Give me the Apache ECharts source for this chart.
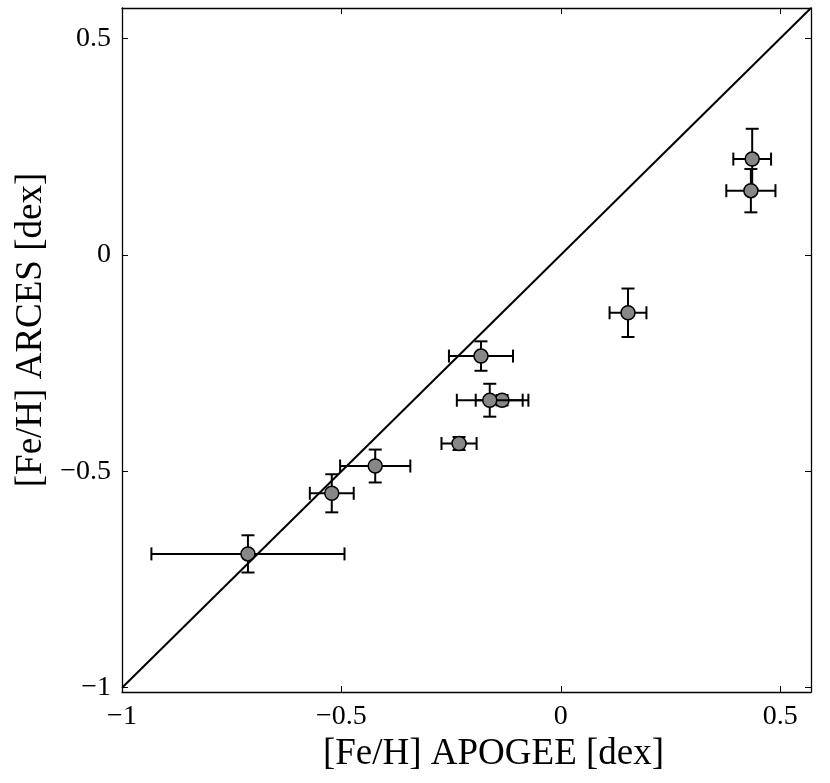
<!DOCTYPE html>
<html>
<head>
<meta charset="utf-8">
<script src="https://cdn.jsdelivr.net/npm/echarts@6/dist/echarts.min.js"></script>
<style>
  html, body { margin: 0; padding: 0; background: #fff; }
  #show { width: 830px; height: 783px; }
</style>
</head>
<body>
<div id="show"></div>
<script>
// [Fe/H] APOGEE vs ARCES, with errors
var apogee    = [-0.713, -0.522, -0.423, -0.182, -0.134, -0.162, -0.232, 0.436, 0.433, 0.153];
var apogeeErr = [ 0.220,  0.050,  0.080,  0.073,  0.060,  0.075,  0.040, 0.043, 0.056, 0.042];
var arces     = [-0.691, -0.551, -0.488, -0.234, -0.336, -0.336, -0.436, 0.221, 0.148, -0.134];
var arcesErr  = [ 0.043,  0.044,  0.038,  0.034,  0.012,  0.038,  0.015, 0.070, 0.050, 0.056];
var oneToOne  = [-1, 0.57];
var tickVals  = [-1, -0.5, 0, 0.5];

var fmt = function (v) { return v < 0 ? '\u2212' + String(-v) : String(v); };
var serif = '"Liberation Serif", "DejaVu Serif", serif';

var myChart = echarts.init(document.getElementById('show'));

var pts = [];
for (var i = 0; i < apogee.length; i++) {
    pts.push([apogee[i], arces[i], apogeeErr[i], arcesErr[i]]);
}
var diag = [];
for (var j = 0; j < oneToOne.length; j++) diag.push([oneToOne[j], oneToOne[j]]);

// error bars + marker per point
function renderErr(params, api) {
    var x = api.value(0), y = api.value(1), ex = api.value(2), ey = api.value(3);
    var c = api.coord([x, y]);
    var l = api.coord([x - ex, y]), r = api.coord([x + ex, y]);
    var t = api.coord([x, y + ey]), b = api.coord([x, y - ey]);
    var cap = 6.5;
    var st = { stroke: '#000', lineWidth: 2 };
    var ln = function (x1, y1, x2, y2) {
        return { type: 'line', shape: { x1: x1, y1: y1, x2: x2, y2: y2 }, style: st };
    };
    return {
        type: 'group',
        children: [
            ln(l[0], c[1], r[0], c[1]),
            ln(l[0], c[1] - cap, l[0], c[1] + cap),
            ln(r[0], c[1] - cap, r[0], c[1] + cap),
            ln(c[0], t[1], c[0], b[1]),
            ln(c[0] - cap, t[1], c[0] + cap, t[1]),
            ln(c[0] - cap, b[1], c[0] + cap, b[1]),
            { type: 'circle', shape: { cx: c[0], cy: c[1], r: 7 },
              style: { fill: '#878787', stroke: '#000', lineWidth: 1.5 } }
        ]
    };
}

function axis(extra) {
    var a = {
        type: 'value',
        axisLine: { show: true, onZero: false, lineStyle: { color: '#000', width: 1.3 } },
        axisTick: { show: true, inside: true, length: 6, customValues: tickVals,
                    lineStyle: { color: '#000', width: 1 } },
        axisLabel: { show: false },
        splitLine: { show: false }
    };
    return Object.assign(a, extra);
}
var labelStyle = { customValues: tickVals, formatter: fmt, margin: 11,
                   fontFamily: serif, fontSize: 28, color: '#000' };

var option = {
    animation: false,
    grid: { left: 122, right: 19, top: 8, bottom: 91 },
    xAxis: [
        axis({ min: -1, max: 0.57, position: 'bottom',
               name: '[Fe/H] APOGEE [dex]', nameLocation: 'middle', nameGap: 28,
               nameTextStyle: { fontFamily: serif, fontSize: 37, color: '#000',
                                padding: [0, 0, 0, 54] },
               axisLabel: labelStyle }),
        axis({ min: -1, max: 0.57, position: 'top' })
    ],
    yAxis: [
        axis({ min: -1.01, max: 0.57, position: 'left',
               name: '[Fe/H] ARCES [dex]', nameLocation: 'middle', nameGap: 58,
               nameTextStyle: { fontFamily: serif, fontSize: 37, color: '#000',
                                padding: [0, 0, 0, 40] },
               axisLabel: labelStyle }),
        axis({ min: -1.01, max: 0.57, position: 'right' })
    ],
    series: [
        {
            type: 'line', data: diag, xAxisIndex: 0, yAxisIndex: 0,
            symbol: 'none', lineStyle: { color: '#000', width: 2 }, silent: true
        },
        {
            type: 'custom', data: pts, xAxisIndex: 0, yAxisIndex: 0,
            renderItem: renderErr, encode: { x: 0, y: 1 }, clip: false
        }
    ]
};
myChart.setOption(option);
</script>
</body>
</html>
